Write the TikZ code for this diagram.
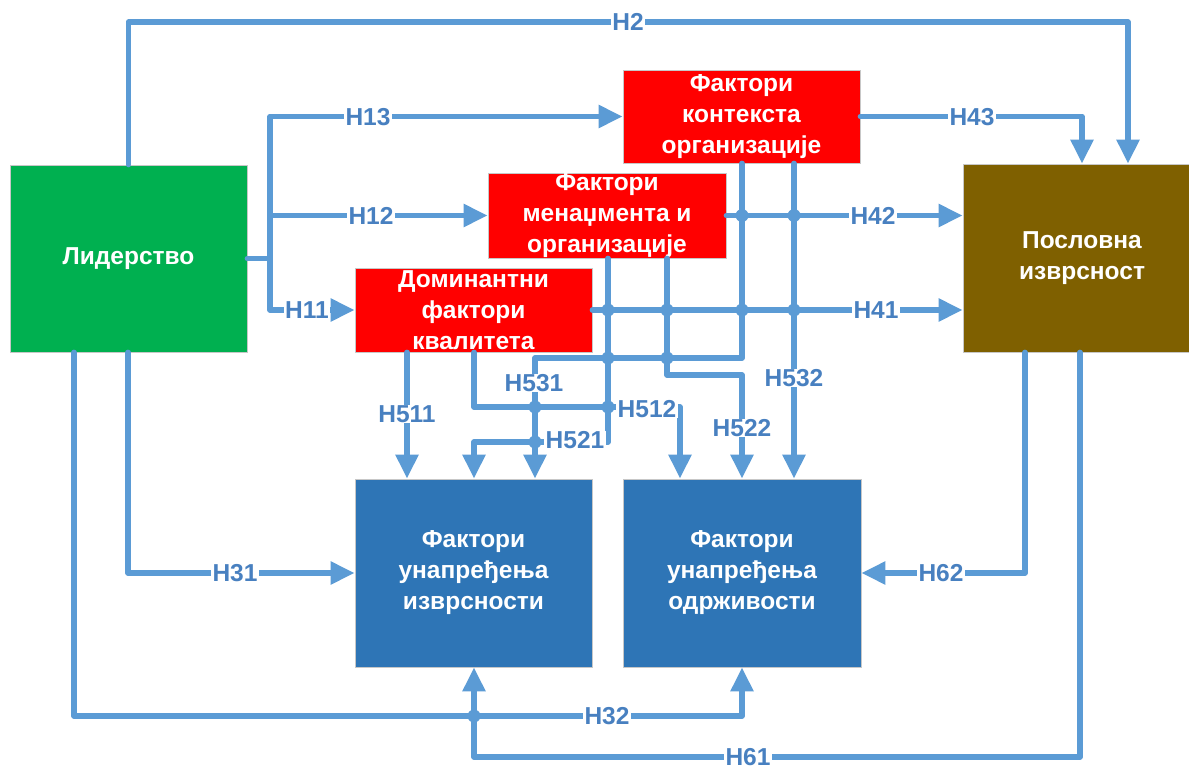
\documentclass[tikz,border=0pt]{standalone}
\usepackage{fontspec}
\setmainfont{Liberation Sans}
\usetikzlibrary{arrows.meta}
\definecolor{cgreen}{HTML}{00B050}
\definecolor{cred}{HTML}{FF0000}
\definecolor{cbrown}{HTML}{7F6000}
\definecolor{cblue}{HTML}{2E75B6}
\definecolor{lc}{HTML}{5B9BD5}
\definecolor{labc}{RGB}{72,128,192}
\begin{document}
\begin{tikzpicture}[x=1pt,y=-1pt,
  box/.style={draw=black!22, line width=0.8pt, text=white, align=center,
    font=\fontsize{24.5}{31}\selectfont\bfseries, inner sep=0pt},
  conn/.style={draw=lc, line width=5.5pt, line cap=round, line join=round},
  arr/.style={conn, -{Triangle[width=22pt,length=24pt]}},
  lbl/.style={fill=white, text=labc, inner xsep=1.5pt, inner ysep=0pt,
    font=\fontsize{24.5}{28}\selectfont\bfseries},
  jdot/.style={fill=lc}]
\clip (0,0) rectangle (1189,771);
\fill[white] (0,0) rectangle (1189,771);

% boxes
\node[box, fill=cgreen, minimum width=237pt, minimum height=187pt] (lid) at (128.5,258.5) {Лидерство};
\node[box, fill=cred, minimum width=237pt, minimum height=93pt] (kon) at (741.5,116.5) {Фактори\\контекста\\организације};
\node[box, fill=cred, minimum width=238pt, minimum height=85pt] (men) at (607,215.5) {Фактори\\менаџмента и\\организације};
\node[box, fill=cred, minimum width=237pt, minimum height=84pt] (dom) at (473.5,310) {Доминантни\\фактори\\квалитета};
\node[box, fill=cbrown, minimum width=238pt, minimum height=188pt] (pos) at (1082,258) {Пословна\\изврсност};
\node[box, fill=cblue, minimum width=237pt, minimum height=188pt] (izv) at (473.5,573) {Фактори\\унапређења\\изврсности};
\node[box, fill=cblue, minimum width=238pt, minimum height=188pt] (odr) at (742,573) {Фактори\\унапређења\\одрживости};

% connectors
\draw[arr] (lid.north) -- (128.5,22) -- (1128,22) -- (1128,0 |- pos.north);
\draw[conn] (lid.east) -- (270,258.5);
\draw[arr] (270,258.5) |- (kon.west);
\draw[arr] (270,258.5) |- (men.west);
\draw[arr] (270,258.5) |- (dom.west);
\draw[arr] (kon.east) -- (1082,116.5) -- (1082,0 |- pos.north);
\draw[arr] (men.east) -- (pos.west |- men.east);
\draw[arr] (dom.east) -- (pos.west |- dom.east);
\draw[arr] (742,0 |- kon.south) -- (742,358) -- (535,358) -- (535,0 |- izv.north);
\draw[arr] (794,0 |- kon.south) -- (794,0 |- odr.north);
\draw[arr] (608,0 |- men.south) -- (608,442) -- (474,442) -- (474,0 |- izv.north);
\draw[arr] (667,0 |- men.south) -- (667,375) -- (742,375) -- (742,0 |- odr.north);
\draw[arr] (407,0 |- dom.south) -- (407,0 |- izv.north);
\draw[arr] (474,0 |- dom.south) -- (474,407) -- (680,407) -- (680,0 |- odr.north);
\draw[arr] (128,0 |- lid.south) -- (128,573) -- (izv.west);
\draw[arr] (74,0 |- lid.south) -- (74,716) -- (742,716) -- (742,0 |- odr.south);
\draw[arr] (1080,0 |- pos.south) -- (1080,757) -- (474,757) -- (474,0 |- izv.south);
\draw[arr] (1025,0 |- pos.south) -- (1025,573) -- (odr.east);

% crossing dots
\foreach \p in {(742,215.5),(794,215.5),(608,310),(667,310),(742,310),(794,310),
  (608,358),(667,358),(535,407),(608,407),(535,442),(474,716)}
  \fill[jdot] \p circle (6.5pt);

% labels
\node[lbl] (h2) at (628,22) {H2};
\node[lbl] (h13) at (368,117) {H13};
\node[lbl] (h12) at (371,215.5) {H12};
\node[lbl] (h11) at (307,310) {H11};
\node[lbl] (h43) at (972,117) {H43};
\node[lbl] (h42) at (873,215.5) {H42};
\node[lbl] (h41) at (876,310) {H41};
\node[lbl] (h531) at (534,383) {H531};
\node[lbl] (h532) at (794,378) {H532};
\node[lbl] (h511) at (407,414) {H511};
\node[lbl] (h521) at (575,440) {H521};
\node[lbl] (h512) at (647,409) {H512};
\node[lbl] (h522) at (742,428) {H522};
\node[lbl] (h31) at (235,573) {H31};
\node[lbl] (h32) at (607,716) {H32};
\node[lbl] (h61) at (748,757) {H61};
\node[lbl] (h62) at (941,573) {H62};
\end{tikzpicture}
\end{document}
